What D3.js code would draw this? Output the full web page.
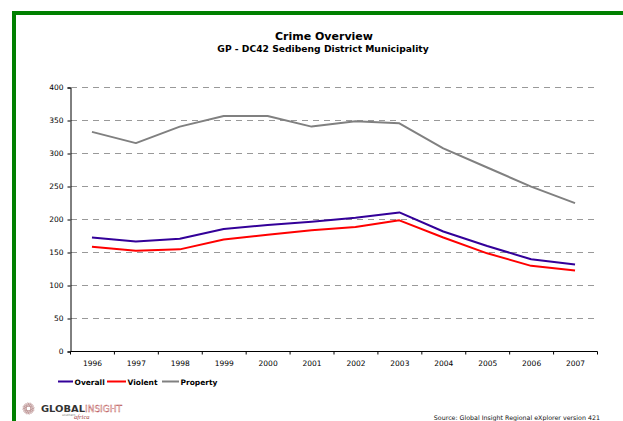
<!DOCTYPE html>
<html>
<head>
<meta charset="utf-8">
<script src="https://cdn.jsdelivr.net/npm/d3@7"></script>
<style>
  html, body { margin: 0; padding: 0; background: #fff; }
  svg { display: block; font-family: "DejaVu Sans", Verdana, sans-serif; }
</style>
</head>
<body>
<svg id="chart" width="623" height="421"></svg>
<script>
// Crime index per year, Sedibeng District Municipality
const years = ["1996","1997","1998","1999","2000","2001","2002","2003","2004","2005","2006","2007"];
const overall  = [172, 166, 170, 185, 191, 196, 202, 210, 181, 159, 139, 131];
const violent  = [158, 152, 154, 169, 176, 183, 188, 198, 172, 148, 129, 122];
const property = [332, 315, 340, 356, 356, 340, 348, 345, 307, 278, 249, 224];
const yTicks = [0, 50, 100, 150, 200, 250, 300, 350, 400];
const seriesNames = ["Overall", "Violent", "Property"];
const seriesColors = ["#330099", "#ff0000", "#808080"];

const svg = d3.select("#chart");

// frame: green rule along top and left
svg.append("rect").attr("x", 12).attr("y", 11).attr("width", 611).attr("height", 4).attr("fill", "#008000");
svg.append("rect").attr("x", 12).attr("y", 11).attr("width", 4).attr("height", 410).attr("fill", "#008000");

// titles
svg.append("text").attr("x", 324).attr("y", 40).attr("text-anchor", "middle")
  .attr("font-size", 11).attr("font-weight", "bold").attr("fill", "#000").text("Crime Overview");
svg.append("text").attr("x", 323).attr("y", 52).attr("text-anchor", "middle")
  .attr("font-size", 9.2).attr("font-weight", "bold").attr("fill", "#000").text("GP - DC42 Sedibeng District Municipality");

const plot = { left: 70, right: 597, top: 87, bottom: 351 };

const x = d3.scaleBand().domain(years).range([plot.left, plot.right]);
const y = d3.scaleLinear().domain([0, 400]).range([plot.bottom, plot.top]);

// dashed gridlines
svg.append("g").selectAll("line").data(yTicks.filter(v => v > 0)).join("line")
  .attr("x1", plot.left + 1).attr("x2", plot.right)
  .attr("y1", d => y(d) + 0.5).attr("y2", d => y(d) + 0.5)
  .attr("stroke", "#999").attr("stroke-width", 1).attr("stroke-dasharray", "6,5");

// y axis
const yAxis = svg.append("g").attr("transform", `translate(${plot.left + 0.5},0.5)`)
  .call(d3.axisLeft(y).tickValues(yTicks).tickSize(3).tickPadding(4));
yAxis.select(".domain").attr("stroke", "#000");
yAxis.selectAll("text").attr("font-size", 7.5).attr("fill", "#000").attr("font-family", "DejaVu Sans, Verdana, sans-serif");

// x axis: ticks on category boundaries
const xAxis = svg.append("g").attr("transform", `translate(0.5,${plot.bottom + 0.5})`);
xAxis.append("line").attr("x1", plot.left).attr("x2", plot.right).attr("stroke", "#000");
xAxis.selectAll("line.tk").data(years.concat(["end"])).join("line").attr("class", "tk")
  .attr("x1", (d, i) => plot.left + i * x.bandwidth())
  .attr("x2", (d, i) => plot.left + i * x.bandwidth())
  .attr("y1", 0).attr("y2", 3).attr("stroke", "#000");
xAxis.selectAll("text").data(years).join("text")
  .attr("x", d => x(d) + x.bandwidth() / 2).attr("y", 14)
  .attr("text-anchor", "middle").attr("font-size", 7.5).attr("fill", "#000").text(d => d);

// series lines
const data = [overall, violent, property];
const line = d3.line().x((d, i) => x(years[i]) + x.bandwidth() / 2).y(d => y(d));
// draw property first so the lower lines sit on top
[2, 1, 0].forEach(k => {
  svg.append("path").datum(data[k]).attr("d", line)
    .attr("fill", "none").attr("stroke", seriesColors[k]).attr("stroke-width", 2)
    .attr("stroke-linejoin", "round");
});

// legend
const legendItems = [
  { x: 58, w: 15, name: seriesNames[0], color: seriesColors[0] },
  { x: 107, w: 19, name: seriesNames[1], color: seriesColors[1] },
  { x: 162, w: 17, name: seriesNames[2], color: seriesColors[2] }
];
const lg = svg.append("g");
legendItems.forEach(it => {
  lg.append("line").attr("x1", it.x).attr("x2", it.x + it.w).attr("y1", 381.5).attr("y2", 381.5)
    .attr("stroke", it.color).attr("stroke-width", 2);
  lg.append("text").attr("x", it.x + it.w + 1.5).attr("y", 384.5).attr("font-size", 7.5)
    .attr("font-weight", "bold").attr("fill", "#000").text(it.name);
});

// logo
const logo = svg.append("g").attr("transform", "translate(28.5,408.5)");
for (let i = 0; i < 12; i++) {
  const a = i * Math.PI / 6;
  logo.append("ellipse").attr("cx", Math.cos(a) * 3.6).attr("cy", Math.sin(a) * 3.6)
    .attr("rx", 3).attr("ry", 1.1)
    .attr("transform", `rotate(${a * 180 / Math.PI + 60},${Math.cos(a) * 3.6},${Math.sin(a) * 3.6})`)
    .attr("fill", "none").attr("stroke", "#b08080").attr("stroke-width", 0.5);
}
svg.append("text").attr("x", 41).attr("y", 412).attr("font-size", 9).attr("font-weight", "900")
  .attr("font-family", "DejaVu Sans, sans-serif").attr("fill", "#333")
  .attr("textLength", 44).attr("lengthAdjust", "spacingAndGlyphs")
  .text("GLOBAL");
svg.append("text").attr("x", 85).attr("y", 412).attr("font-size", 9)
  .attr("font-family", "DejaVu Sans, sans-serif").attr("fill", "#fff").attr("stroke", "#b85050")
  .attr("stroke-width", 0.4).attr("textLength", 37).attr("lengthAdjust", "spacingAndGlyphs").text("INSIGHT");
svg.append("text").attr("x", 62).attr("y", 416).attr("font-size", 3).attr("fill", "#777").text("southern");
svg.append("text").attr("x", 74).attr("y", 419).attr("font-size", 6.5).attr("font-style", "italic")
  .attr("font-family", "Liberation Serif, serif").attr("fill", "#a04040").text("africa");

// source line
svg.append("text").attr("x", 600).attr("y", 420).attr("text-anchor", "end").attr("font-size", 6.3)
  .attr("fill", "#111").text("Source: Global Insight Regional eXplorer version 421");
</script>
</body>
</html>
